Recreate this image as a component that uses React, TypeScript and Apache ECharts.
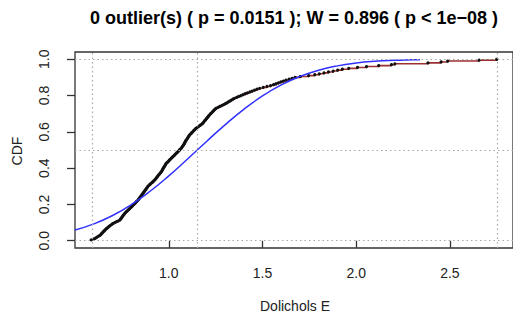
import React, { useEffect, useRef } from "react";
import * as echarts from "echarts";

// Sorted sample values (Dolichols E), read from the empirical CDF
const ECDF_VALUES = [
  0.586, 0.601, 0.609, 0.617, 0.625, 0.633, 0.638, 0.642, 0.647, 0.651,
  0.656, 0.661, 0.665, 0.671, 0.677, 0.683, 0.689, 0.696, 0.702, 0.711,
  0.721, 0.731, 0.740, 0.743, 0.747, 0.750, 0.754, 0.757, 0.761, 0.764,
  0.769, 0.774, 0.779, 0.784, 0.789, 0.794, 0.799, 0.804, 0.808, 0.813,
  0.818, 0.823, 0.827, 0.832, 0.837, 0.840, 0.844, 0.847, 0.851, 0.854,
  0.858, 0.861, 0.865, 0.868, 0.872, 0.875, 0.879, 0.882, 0.886, 0.889,
  0.894, 0.899, 0.904, 0.910, 0.915, 0.920, 0.925, 0.929, 0.933, 0.937,
  0.940, 0.944, 0.948, 0.952, 0.956, 0.960, 0.963, 0.966, 0.968, 0.971,
  0.974, 0.977, 0.980, 0.983, 0.985, 0.990, 0.995, 1.000, 1.004, 1.009,
  1.014, 1.019, 1.024, 1.029, 1.033, 1.038, 1.043, 1.048, 1.053, 1.057,
  1.062, 1.067, 1.070, 1.073, 1.077, 1.080, 1.083, 1.085, 1.088, 1.090,
  1.093, 1.097, 1.100, 1.103, 1.106, 1.109, 1.113, 1.118, 1.122, 1.127,
  1.132, 1.136, 1.141, 1.146, 1.153, 1.159, 1.166, 1.172, 1.179, 1.183,
  1.187, 1.191, 1.195, 1.199, 1.203, 1.207, 1.211, 1.214, 1.219, 1.223,
  1.228, 1.233, 1.238, 1.242, 1.247, 1.253, 1.263, 1.272, 1.282, 1.292,
  1.302, 1.310, 1.318, 1.326, 1.334, 1.342, 1.350, 1.362, 1.373, 1.385,
  1.396, 1.408, 1.420, 1.433, 1.445, 1.458, 1.471, 1.485, 1.504, 1.524,
  1.543, 1.559, 1.572, 1.585, 1.598, 1.611, 1.625, 1.642, 1.658, 1.674,
  1.702, 1.746, 1.779, 1.803, 1.828, 1.852, 1.877, 1.901, 1.926, 1.960,
  2.007, 2.055, 2.120, 2.188, 2.206, 2.383, 2.453, 2.488, 2.656, 2.750,
];

// Fitted normal CDF
const NORMAL_X = [
  0.4994, 0.6, 0.7, 0.8, 0.9, 1.0, 1.1, 1.2, 1.3, 1.4, 1.5, 1.6, 1.7, 1.8,
  1.9, 2.0, 2.1, 2.2, 2.3, 2.34,
];
const NORMAL_CDF = [
  0.0587, 0.0928, 0.1393, 0.1993, 0.2728, 0.3577, 0.4504, 0.5458, 0.6387,
  0.724, 0.798, 0.8586, 0.9056, 0.9399, 0.9636, 0.979, 0.9885, 0.994, 0.997,
  0.9978,
];

// Reference (dotted) lines: min, mean, max of x; 0, 0.5, 1 of CDF
const V_LINES = [0.586, 1.152, 2.75];
const H_LINES = [0, 0.5, 1];

const X_TICKS = [1.0, 1.5, 2.0, 2.5];
const Y_TICKS = [0, 0.2, 0.4, 0.6, 0.8, 1.0];

const TITLE = "0 outlier(s) ( p = 0.0151 ); W = 0.896 ( p < 1e\u221208 )";
const X_NAME = "Dolichols E";
const Y_NAME = "CDF";

const FONT = "'Liberation Sans', Arial, Helvetica, sans-serif";

export default function App() {
  const ref = useRef<HTMLDivElement>(null);

  useEffect(() => {
    document.body.style.margin = "0";
    const chart = echarts.init(ref.current!, null, { renderer: "svg" });

    const dMin = Math.min(...ECDF_VALUES);
    const dMax = Math.max(...ECDF_VALUES);
    const ext = (dMax - dMin) * 0.04;
    const xMin = dMin - ext;
    const xMax = dMax + ext;
    const n = ECDF_VALUES.length;
    const ecdf = ECDF_VALUES.map((v, i) => [v, (i + 1) / n]);
    const normal = NORMAL_X.map((x, i) => [x, NORMAL_CDF[i]]);

    const axisText = { fontSize: 14, color: "#222", fontFamily: FONT };

    chart.setOption({
      animation: false,
      grid: {
        left: 75,
        top: 52,
        width: 441,
        height: 196,
        show: true,
        borderColor: "#333",
        borderWidth: 1.3,
        backgroundColor: "transparent",
      },
      xAxis: {
        type: "value",
        min: xMin,
        max: xMax,
        axisLine: { show: false },
        splitLine: { show: false },
        axisTick: {
          show: true,
          length: 7,
          customValues: X_TICKS,
          lineStyle: { color: "#333", width: 1.3 },
        },
        axisLabel: {
          ...axisText,
          customValues: X_TICKS,
          margin: 18,
          formatter: (v: number) => v.toFixed(1),
        },
      },
      yAxis: {
        type: "value",
        min: -0.04,
        max: 1.04,
        axisLine: { show: false },
        splitLine: { show: false },
        axisTick: {
          show: true,
          length: 8,
          customValues: Y_TICKS,
          lineStyle: { color: "#333", width: 1.3 },
        },
        axisLabel: {
          ...axisText,
          customValues: Y_TICKS,
          rotate: 90,
          margin: 24,
          formatter: (v: number) => v.toFixed(1),
        },
      },
      graphic: [
        {
          type: "text",
          x: 294,
          y: 18,
          style: {
            text: TITLE,
            font: `bold 18px ${FONT}`,
            fill: "#000",
            align: "center",
            verticalAlign: "middle",
          },
        },
        {
          type: "text",
          x: 295,
          y: 306,
          style: {
            text: X_NAME,
            font: `14px ${FONT}`,
            fill: "#222",
            align: "center",
            verticalAlign: "middle",
          },
        },
        {
          type: "text",
          x: 17,
          y: 151,
          rotation: Math.PI / 2,
          style: {
            text: Y_NAME,
            font: `14px ${FONT}`,
            fill: "#222",
            align: "center",
            verticalAlign: "middle",
          },
        },
      ],
      series: [
        {
          type: "line",
          data: [],
          silent: true,
          markLine: {
            silent: true,
            symbol: "none",
            label: { show: false },
            lineStyle: { type: [1.5, 3], color: "#a8a8a8", width: 1.2 },
            data: [
              ...V_LINES.map((x) => ({ xAxis: x })),
              ...H_LINES.map((y) => ({ yAxis: y })),
            ],
          },
        },
        {
          type: "line",
          data: ecdf,
          step: "end",
          symbol: "circle",
          symbolSize: 3.2,
          showAllSymbol: true,
          itemStyle: { color: "#111" },
          lineStyle: { color: "#9b3030", width: 1.6 },
          z: 3,
        },
        {
          type: "line",
          data: normal,
          smooth: true,
          symbol: "none",
          lineStyle: { color: "#3030ff", width: 1.5 },
          z: 4,
        },
      ],
    });

    return () => chart.dispose();
  }, []);

  return <div ref={ref} style={{ width: 513, height: 321 }} />;
}
